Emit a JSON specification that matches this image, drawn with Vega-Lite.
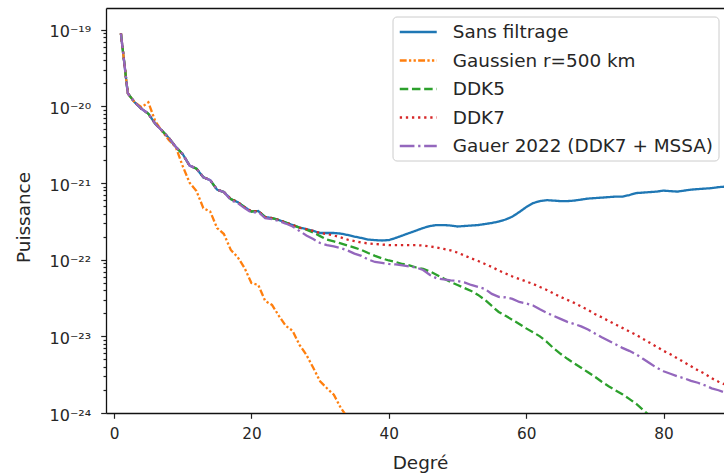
{
  "$schema": "https://vega.github.io/schema/vega-lite/v6.json",
  "width": 618,
  "height": 405,
  "autosize": {"type": "none"},
  "padding": {"left": 106, "top": 8, "right": 0, "bottom": 62},
  "background": "white",
  "config": {
    "view": {"stroke": null},
    "font": "DejaVu Sans",
    "axis": {"grid": false, "domain": true, "domainColor": "#111", "domainWidth": 1.3, "tickColor": "#222", "tickWidth": 1.2, "labelColor": "#262626", "labelFont": "DejaVu Sans", "labelFontSize": 15.3, "titleFont": "DejaVu Sans", "titleFontSize": 18.4, "titleFontWeight": "normal", "titleColor": "#262626", "labelFlush": false, "labelOverlap": false}
  },
  "data": {"values": [
    {"d":1,"s":"Sans filtrage","p":8.95e-20},{"d":2,"s":"Sans filtrage","p":1.48e-20},{"d":3,"s":"Sans filtrage","p":1.13e-20},{"d":4,"s":"Sans filtrage","p":9.31e-21},{"d":5,"s":"Sans filtrage","p":8.02e-21},{"d":6,"s":"Sans filtrage","p":5.93e-21},{"d":7,"s":"Sans filtrage","p":4.81e-21},{"d":8,"s":"Sans filtrage","p":3.85e-21},{"d":9,"s":"Sans filtrage","p":2.95e-21},{"d":10,"s":"Sans filtrage","p":2.38e-21},
    {"d":11,"s":"Sans filtrage","p":1.69e-21},{"d":12,"s":"Sans filtrage","p":1.54e-21},{"d":13,"s":"Sans filtrage","p":1.19e-21},{"d":14,"s":"Sans filtrage","p":1.09e-21},{"d":15,"s":"Sans filtrage","p":8.2e-22},{"d":16,"s":"Sans filtrage","p":7.62e-22},{"d":17,"s":"Sans filtrage","p":6.17e-22},{"d":18,"s":"Sans filtrage","p":5.64e-22},{"d":19,"s":"Sans filtrage","p":4.85e-22},{"d":20,"s":"Sans filtrage","p":4.25e-22},
    {"d":21,"s":"Sans filtrage","p":4.31e-22},{"d":22,"s":"Sans filtrage","p":3.6e-22},{"d":23,"s":"Sans filtrage","p":3.49e-22},{"d":24,"s":"Sans filtrage","p":3.29e-22},{"d":25,"s":"Sans filtrage","p":3.05e-22},{"d":26,"s":"Sans filtrage","p":2.83e-22},{"d":27,"s":"Sans filtrage","p":2.62e-22},{"d":28,"s":"Sans filtrage","p":2.51e-22},{"d":29,"s":"Sans filtrage","p":2.37e-22},{"d":30,"s":"Sans filtrage","p":2.23e-22},
    {"d":31,"s":"Sans filtrage","p":2.23e-22},{"d":32,"s":"Sans filtrage","p":2.23e-22},{"d":33,"s":"Sans filtrage","p":2.19e-22},{"d":34,"s":"Sans filtrage","p":2.1e-22},{"d":35,"s":"Sans filtrage","p":2.0e-22},{"d":36,"s":"Sans filtrage","p":1.92e-22},{"d":37,"s":"Sans filtrage","p":1.83e-22},{"d":38,"s":"Sans filtrage","p":1.8e-22},{"d":39,"s":"Sans filtrage","p":1.78e-22},{"d":40,"s":"Sans filtrage","p":1.8e-22},
    {"d":41,"s":"Sans filtrage","p":1.92e-22},{"d":42,"s":"Sans filtrage","p":2.07e-22},{"d":43,"s":"Sans filtrage","p":2.23e-22},{"d":44,"s":"Sans filtrage","p":2.4e-22},{"d":45,"s":"Sans filtrage","p":2.59e-22},{"d":46,"s":"Sans filtrage","p":2.75e-22},{"d":47,"s":"Sans filtrage","p":2.83e-22},{"d":48,"s":"Sans filtrage","p":2.83e-22},{"d":49,"s":"Sans filtrage","p":2.79e-22},{"d":50,"s":"Sans filtrage","p":2.71e-22},
    {"d":51,"s":"Sans filtrage","p":2.75e-22},{"d":52,"s":"Sans filtrage","p":2.79e-22},{"d":53,"s":"Sans filtrage","p":2.83e-22},{"d":54,"s":"Sans filtrage","p":2.92e-22},{"d":55,"s":"Sans filtrage","p":3.01e-22},{"d":56,"s":"Sans filtrage","p":3.14e-22},{"d":57,"s":"Sans filtrage","p":3.34e-22},{"d":58,"s":"Sans filtrage","p":3.65e-22},{"d":59,"s":"Sans filtrage","p":4.18e-22},{"d":60,"s":"Sans filtrage","p":4.85e-22},
    {"d":61,"s":"Sans filtrage","p":5.47e-22},{"d":62,"s":"Sans filtrage","p":5.81e-22},{"d":63,"s":"Sans filtrage","p":5.98e-22},{"d":64,"s":"Sans filtrage","p":5.9e-22},{"d":65,"s":"Sans filtrage","p":5.81e-22},{"d":66,"s":"Sans filtrage","p":5.81e-22},{"d":67,"s":"Sans filtrage","p":5.9e-22},{"d":68,"s":"Sans filtrage","p":6.08e-22},{"d":69,"s":"Sans filtrage","p":6.27e-22},{"d":70,"s":"Sans filtrage","p":6.36e-22},
    {"d":71,"s":"Sans filtrage","p":6.45e-22},{"d":72,"s":"Sans filtrage","p":6.55e-22},{"d":73,"s":"Sans filtrage","p":6.65e-22},{"d":74,"s":"Sans filtrage","p":6.65e-22},{"d":75,"s":"Sans filtrage","p":6.96e-22},{"d":76,"s":"Sans filtrage","p":7.39e-22},{"d":77,"s":"Sans filtrage","p":7.5e-22},{"d":78,"s":"Sans filtrage","p":7.62e-22},{"d":79,"s":"Sans filtrage","p":7.73e-22},{"d":80,"s":"Sans filtrage","p":7.96e-22},
    {"d":81,"s":"Sans filtrage","p":7.84e-22},{"d":82,"s":"Sans filtrage","p":7.73e-22},{"d":83,"s":"Sans filtrage","p":7.96e-22},{"d":84,"s":"Sans filtrage","p":8.2e-22},{"d":85,"s":"Sans filtrage","p":8.33e-22},{"d":86,"s":"Sans filtrage","p":8.46e-22},{"d":87,"s":"Sans filtrage","p":8.58e-22},{"d":88,"s":"Sans filtrage","p":8.84e-22},{"d":89,"s":"Sans filtrage","p":8.97e-22},

    {"d":1,"s":"Gaussien r=500 km","p":8.95e-20},{"d":2,"s":"Gaussien r=500 km","p":1.48e-20},{"d":3,"s":"Gaussien r=500 km","p":1.13e-20},{"d":4,"s":"Gaussien r=500 km","p":9.73e-21},{"d":5,"s":"Gaussien r=500 km","p":1.13e-20},{"d":6,"s":"Gaussien r=500 km","p":6.4e-21},{"d":7,"s":"Gaussien r=500 km","p":4.74e-21},{"d":8,"s":"Gaussien r=500 km","p":3.62e-21},{"d":9,"s":"Gaussien r=500 km","p":2.93e-21},{"d":10,"s":"Gaussien r=500 km","p":1.66e-21},
    {"d":11,"s":"Gaussien r=500 km","p":1.01e-21},{"d":12,"s":"Gaussien r=500 km","p":7.84e-22},{"d":13,"s":"Gaussien r=500 km","p":4.71e-22},{"d":14,"s":"Gaussien r=500 km","p":4.25e-22},{"d":15,"s":"Gaussien r=500 km","p":2.59e-22},{"d":16,"s":"Gaussien r=500 km","p":2.16e-22},{"d":17,"s":"Gaussien r=500 km","p":1.34e-22},{"d":18,"s":"Gaussien r=500 km","p":1.08e-22},{"d":19,"s":"Gaussien r=500 km","p":7.8e-23},{"d":20,"s":"Gaussien r=500 km","p":4.97e-23},
    {"d":21,"s":"Gaussien r=500 km","p":4.68e-23},{"d":22,"s":"Gaussien r=500 km","p":2.9e-23},{"d":23,"s":"Gaussien r=500 km","p":2.57e-23},{"d":24,"s":"Gaussien r=500 km","p":1.85e-23},{"d":25,"s":"Gaussien r=500 km","p":1.37e-23},{"d":26,"s":"Gaussien r=500 km","p":1.18e-23},{"d":27,"s":"Gaussien r=500 km","p":7.75e-24},{"d":28,"s":"Gaussien r=500 km","p":5.74e-24},{"d":29,"s":"Gaussien r=500 km","p":3.89e-24},{"d":30,"s":"Gaussien r=500 km","p":2.59e-24},
    {"d":31,"s":"Gaussien r=500 km","p":2.1e-24},{"d":32,"s":"Gaussien r=500 km","p":1.73e-24},{"d":33,"s":"Gaussien r=500 km","p":1.17e-24},{"d":34,"s":"Gaussien r=500 km","p":8.7e-25},

    {"d":1,"s":"DDK5","p":8.95e-20},{"d":2,"s":"DDK5","p":1.48e-20},{"d":3,"s":"DDK5","p":1.13e-20},{"d":4,"s":"DDK5","p":9.31e-21},{"d":5,"s":"DDK5","p":8.02e-21},{"d":6,"s":"DDK5","p":5.93e-21},{"d":7,"s":"DDK5","p":4.81e-21},{"d":8,"s":"DDK5","p":3.85e-21},{"d":9,"s":"DDK5","p":2.95e-21},{"d":10,"s":"DDK5","p":2.38e-21},
    {"d":11,"s":"DDK5","p":1.69e-21},{"d":12,"s":"DDK5","p":1.54e-21},{"d":13,"s":"DDK5","p":1.19e-21},{"d":14,"s":"DDK5","p":1.09e-21},{"d":15,"s":"DDK5","p":8.2e-22},{"d":16,"s":"DDK5","p":7.62e-22},{"d":17,"s":"DDK5","p":6.17e-22},{"d":18,"s":"DDK5","p":5.64e-22},{"d":19,"s":"DDK5","p":4.85e-22},{"d":20,"s":"DDK5","p":4.25e-22},
    {"d":21,"s":"DDK5","p":4.31e-22},{"d":22,"s":"DDK5","p":3.6e-22},{"d":23,"s":"DDK5","p":3.49e-22},{"d":24,"s":"DDK5","p":3.29e-22},{"d":25,"s":"DDK5","p":3.05e-22},{"d":26,"s":"DDK5","p":2.83e-22},{"d":27,"s":"DDK5","p":2.62e-22},{"d":28,"s":"DDK5","p":2.47e-22},{"d":29,"s":"DDK5","p":2.26e-22},{"d":30,"s":"DDK5","p":2.03e-22},
    {"d":31,"s":"DDK5","p":1.83e-22},{"d":32,"s":"DDK5","p":1.73e-22},{"d":33,"s":"DDK5","p":1.63e-22},{"d":34,"s":"DDK5","p":1.53e-22},{"d":35,"s":"DDK5","p":1.44e-22},{"d":36,"s":"DDK5","p":1.34e-22},{"d":37,"s":"DDK5","p":1.22e-22},{"d":38,"s":"DDK5","p":1.12e-22},{"d":39,"s":"DDK5","p":1.04e-22},{"d":40,"s":"DDK5","p":9.76e-23},
    {"d":41,"s":"DDK5","p":9.33e-23},{"d":42,"s":"DDK5","p":8.79e-23},{"d":43,"s":"DDK5","p":8.41e-23},{"d":44,"s":"DDK5","p":7.91e-23},{"d":45,"s":"DDK5","p":7.57e-23},{"d":46,"s":"DDK5","p":7.02e-23},{"d":47,"s":"DDK5","p":6.32e-23},{"d":48,"s":"DDK5","p":5.69e-23},{"d":49,"s":"DDK5","p":5.12e-23},{"d":50,"s":"DDK5","p":4.68e-23},
    {"d":51,"s":"DDK5","p":4.28e-23},{"d":52,"s":"DDK5","p":3.91e-23},{"d":53,"s":"DDK5","p":3.47e-23},{"d":54,"s":"DDK5","p":2.99e-23},{"d":55,"s":"DDK5","p":2.49e-23},{"d":56,"s":"DDK5","p":2.08e-23},{"d":57,"s":"DDK5","p":1.85e-23},{"d":58,"s":"DDK5","p":1.64e-23},{"d":59,"s":"DDK5","p":1.45e-23},{"d":60,"s":"DDK5","p":1.27e-23},
    {"d":61,"s":"DDK5","p":1.13e-23},{"d":62,"s":"DDK5","p":1.0e-23},{"d":63,"s":"DDK5","p":8.48e-24},{"d":64,"s":"DDK5","p":6.98e-24},{"d":65,"s":"DDK5","p":5.92e-24},{"d":66,"s":"DDK5","p":5.09e-24},{"d":67,"s":"DDK5","p":4.45e-24},{"d":68,"s":"DDK5","p":3.89e-24},{"d":69,"s":"DDK5","p":3.4e-24},{"d":70,"s":"DDK5","p":2.97e-24},
    {"d":71,"s":"DDK5","p":2.56e-24},{"d":72,"s":"DDK5","p":2.23e-24},{"d":73,"s":"DDK5","p":1.98e-24},{"d":74,"s":"DDK5","p":1.76e-24},{"d":75,"s":"DDK5","p":1.53e-24},{"d":76,"s":"DDK5","p":1.32e-24},{"d":77,"s":"DDK5","p":1.1e-24},{"d":78,"s":"DDK5","p":9.2e-25},

    {"d":1,"s":"DDK7","p":8.95e-20},{"d":2,"s":"DDK7","p":1.48e-20},{"d":3,"s":"DDK7","p":1.13e-20},{"d":4,"s":"DDK7","p":9.31e-21},{"d":5,"s":"DDK7","p":8.02e-21},{"d":6,"s":"DDK7","p":5.93e-21},{"d":7,"s":"DDK7","p":4.81e-21},{"d":8,"s":"DDK7","p":3.85e-21},{"d":9,"s":"DDK7","p":2.95e-21},{"d":10,"s":"DDK7","p":2.38e-21},
    {"d":11,"s":"DDK7","p":1.69e-21},{"d":12,"s":"DDK7","p":1.54e-21},{"d":13,"s":"DDK7","p":1.19e-21},{"d":14,"s":"DDK7","p":1.09e-21},{"d":15,"s":"DDK7","p":8.2e-22},{"d":16,"s":"DDK7","p":7.62e-22},{"d":17,"s":"DDK7","p":6.17e-22},{"d":18,"s":"DDK7","p":5.64e-22},{"d":19,"s":"DDK7","p":4.85e-22},{"d":20,"s":"DDK7","p":4.25e-22},
    {"d":21,"s":"DDK7","p":4.31e-22},{"d":22,"s":"DDK7","p":3.6e-22},{"d":23,"s":"DDK7","p":3.49e-22},{"d":24,"s":"DDK7","p":3.29e-22},{"d":25,"s":"DDK7","p":3.05e-22},{"d":26,"s":"DDK7","p":2.83e-22},{"d":27,"s":"DDK7","p":2.62e-22},{"d":28,"s":"DDK7","p":2.51e-22},{"d":29,"s":"DDK7","p":2.37e-22},{"d":30,"s":"DDK7","p":2.23e-22},
    {"d":31,"s":"DDK7","p":2.16e-22},{"d":32,"s":"DDK7","p":2.07e-22},{"d":33,"s":"DDK7","p":1.95e-22},{"d":34,"s":"DDK7","p":1.83e-22},{"d":35,"s":"DDK7","p":1.75e-22},{"d":36,"s":"DDK7","p":1.67e-22},{"d":37,"s":"DDK7","p":1.63e-22},{"d":38,"s":"DDK7","p":1.6e-22},{"d":39,"s":"DDK7","p":1.58e-22},{"d":40,"s":"DDK7","p":1.55e-22},
    {"d":41,"s":"DDK7","p":1.55e-22},{"d":42,"s":"DDK7","p":1.55e-22},{"d":43,"s":"DDK7","p":1.55e-22},{"d":44,"s":"DDK7","p":1.55e-22},{"d":45,"s":"DDK7","p":1.53e-22},{"d":46,"s":"DDK7","p":1.49e-22},{"d":47,"s":"DDK7","p":1.44e-22},{"d":48,"s":"DDK7","p":1.38e-22},{"d":49,"s":"DDK7","p":1.32e-22},{"d":50,"s":"DDK7","p":1.24e-22},
    {"d":51,"s":"DDK7","p":1.135e-22},{"d":52,"s":"DDK7","p":1.04e-22},{"d":53,"s":"DDK7","p":9.62e-23},{"d":54,"s":"DDK7","p":8.79e-23},{"d":55,"s":"DDK7","p":8.04e-23},{"d":56,"s":"DDK7","p":7.23e-23},{"d":57,"s":"DDK7","p":6.61e-23},{"d":58,"s":"DDK7","p":6.04e-23},{"d":59,"s":"DDK7","p":5.61e-23},{"d":60,"s":"DDK7","p":5.2e-23},
    {"d":61,"s":"DDK7","p":4.83e-23},{"d":62,"s":"DDK7","p":4.41e-23},{"d":63,"s":"DDK7","p":4.03e-23},{"d":64,"s":"DDK7","p":3.63e-23},{"d":65,"s":"DDK7","p":3.27e-23},{"d":66,"s":"DDK7","p":2.99e-23},{"d":67,"s":"DDK7","p":2.73e-23},{"d":68,"s":"DDK7","p":2.46e-23},{"d":69,"s":"DDK7","p":2.21e-23},{"d":70,"s":"DDK7","p":1.96e-23},
    {"d":71,"s":"DDK7","p":1.77e-23},{"d":72,"s":"DDK7","p":1.59e-23},{"d":73,"s":"DDK7","p":1.43e-23},{"d":74,"s":"DDK7","p":1.29e-23},{"d":75,"s":"DDK7","p":1.16e-23},{"d":76,"s":"DDK7","p":1.046e-23},{"d":77,"s":"DDK7","p":9.28e-24},{"d":78,"s":"DDK7","p":8.23e-24},{"d":79,"s":"DDK7","p":7.3e-24},{"d":80,"s":"DDK7","p":6.47e-24},
    {"d":81,"s":"DDK7","p":5.83e-24},{"d":82,"s":"DDK7","p":5.17e-24},{"d":83,"s":"DDK7","p":4.59e-24},{"d":84,"s":"DDK7","p":4.07e-24},{"d":85,"s":"DDK7","p":3.61e-24},{"d":86,"s":"DDK7","p":3.25e-24},{"d":87,"s":"DDK7","p":2.84e-24},{"d":88,"s":"DDK7","p":2.56e-24},{"d":89,"s":"DDK7","p":2.34e-24},

    {"d":1,"s":"Gauer 2022 (DDK7 + MSSA)","p":8.95e-20},{"d":2,"s":"Gauer 2022 (DDK7 + MSSA)","p":1.48e-20},{"d":3,"s":"Gauer 2022 (DDK7 + MSSA)","p":1.13e-20},{"d":4,"s":"Gauer 2022 (DDK7 + MSSA)","p":9.31e-21},{"d":5,"s":"Gauer 2022 (DDK7 + MSSA)","p":8.02e-21},{"d":6,"s":"Gauer 2022 (DDK7 + MSSA)","p":5.93e-21},{"d":7,"s":"Gauer 2022 (DDK7 + MSSA)","p":4.81e-21},{"d":8,"s":"Gauer 2022 (DDK7 + MSSA)","p":3.85e-21},{"d":9,"s":"Gauer 2022 (DDK7 + MSSA)","p":2.95e-21},{"d":10,"s":"Gauer 2022 (DDK7 + MSSA)","p":2.38e-21},
    {"d":11,"s":"Gauer 2022 (DDK7 + MSSA)","p":1.69e-21},{"d":12,"s":"Gauer 2022 (DDK7 + MSSA)","p":1.54e-21},{"d":13,"s":"Gauer 2022 (DDK7 + MSSA)","p":1.19e-21},{"d":14,"s":"Gauer 2022 (DDK7 + MSSA)","p":1.09e-21},{"d":15,"s":"Gauer 2022 (DDK7 + MSSA)","p":8.2e-22},{"d":16,"s":"Gauer 2022 (DDK7 + MSSA)","p":7.62e-22},{"d":17,"s":"Gauer 2022 (DDK7 + MSSA)","p":5.98e-22},{"d":18,"s":"Gauer 2022 (DDK7 + MSSA)","p":5.47e-22},{"d":19,"s":"Gauer 2022 (DDK7 + MSSA)","p":4.71e-22},{"d":20,"s":"Gauer 2022 (DDK7 + MSSA)","p":4.12e-22},
    {"d":21,"s":"Gauer 2022 (DDK7 + MSSA)","p":4.18e-22},{"d":22,"s":"Gauer 2022 (DDK7 + MSSA)","p":3.49e-22},{"d":23,"s":"Gauer 2022 (DDK7 + MSSA)","p":3.39e-22},{"d":24,"s":"Gauer 2022 (DDK7 + MSSA)","p":3.19e-22},{"d":25,"s":"Gauer 2022 (DDK7 + MSSA)","p":2.96e-22},{"d":26,"s":"Gauer 2022 (DDK7 + MSSA)","p":2.71e-22},{"d":27,"s":"Gauer 2022 (DDK7 + MSSA)","p":2.37e-22},{"d":28,"s":"Gauer 2022 (DDK7 + MSSA)","p":2.07e-22},{"d":29,"s":"Gauer 2022 (DDK7 + MSSA)","p":1.86e-22},{"d":30,"s":"Gauer 2022 (DDK7 + MSSA)","p":1.65e-22},
    {"d":31,"s":"Gauer 2022 (DDK7 + MSSA)","p":1.55e-22},{"d":32,"s":"Gauer 2022 (DDK7 + MSSA)","p":1.49e-22},{"d":33,"s":"Gauer 2022 (DDK7 + MSSA)","p":1.42e-22},{"d":34,"s":"Gauer 2022 (DDK7 + MSSA)","p":1.32e-22},{"d":35,"s":"Gauer 2022 (DDK7 + MSSA)","p":1.2e-22},{"d":36,"s":"Gauer 2022 (DDK7 + MSSA)","p":1.12e-22},{"d":37,"s":"Gauer 2022 (DDK7 + MSSA)","p":1.006e-22},{"d":38,"s":"Gauer 2022 (DDK7 + MSSA)","p":9.33e-23},{"d":39,"s":"Gauer 2022 (DDK7 + MSSA)","p":9.06e-23},{"d":40,"s":"Gauer 2022 (DDK7 + MSSA)","p":8.79e-23},
    {"d":41,"s":"Gauer 2022 (DDK7 + MSSA)","p":8.66e-23},{"d":42,"s":"Gauer 2022 (DDK7 + MSSA)","p":8.41e-23},{"d":43,"s":"Gauer 2022 (DDK7 + MSSA)","p":8.15e-23},{"d":44,"s":"Gauer 2022 (DDK7 + MSSA)","p":7.91e-23},{"d":45,"s":"Gauer 2022 (DDK7 + MSSA)","p":7.34e-23},{"d":46,"s":"Gauer 2022 (DDK7 + MSSA)","p":6.32e-23},{"d":47,"s":"Gauer 2022 (DDK7 + MSSA)","p":5.69e-23},{"d":48,"s":"Gauer 2022 (DDK7 + MSSA)","p":5.52e-23},{"d":49,"s":"Gauer 2022 (DDK7 + MSSA)","p":5.36e-23},{"d":50,"s":"Gauer 2022 (DDK7 + MSSA)","p":5.28e-23},
    {"d":51,"s":"Gauer 2022 (DDK7 + MSSA)","p":5.05e-23},{"d":52,"s":"Gauer 2022 (DDK7 + MSSA)","p":4.68e-23},{"d":53,"s":"Gauer 2022 (DDK7 + MSSA)","p":4.41e-23},{"d":54,"s":"Gauer 2022 (DDK7 + MSSA)","p":4.15e-23},{"d":55,"s":"Gauer 2022 (DDK7 + MSSA)","p":3.58e-23},{"d":56,"s":"Gauer 2022 (DDK7 + MSSA)","p":3.27e-23},{"d":57,"s":"Gauer 2022 (DDK7 + MSSA)","p":3.22e-23},{"d":58,"s":"Gauer 2022 (DDK7 + MSSA)","p":3.08e-23},{"d":59,"s":"Gauer 2022 (DDK7 + MSSA)","p":2.81e-23},{"d":60,"s":"Gauer 2022 (DDK7 + MSSA)","p":2.69e-23},
    {"d":61,"s":"Gauer 2022 (DDK7 + MSSA)","p":2.53e-23},{"d":62,"s":"Gauer 2022 (DDK7 + MSSA)","p":2.25e-23},{"d":63,"s":"Gauer 2022 (DDK7 + MSSA)","p":2.02e-23},{"d":64,"s":"Gauer 2022 (DDK7 + MSSA)","p":1.85e-23},{"d":65,"s":"Gauer 2022 (DDK7 + MSSA)","p":1.69e-23},{"d":66,"s":"Gauer 2022 (DDK7 + MSSA)","p":1.545e-23},{"d":67,"s":"Gauer 2022 (DDK7 + MSSA)","p":1.45e-23},{"d":68,"s":"Gauer 2022 (DDK7 + MSSA)","p":1.35e-23},{"d":69,"s":"Gauer 2022 (DDK7 + MSSA)","p":1.23e-23},{"d":70,"s":"Gauer 2022 (DDK7 + MSSA)","p":1.09e-23},
    {"d":71,"s":"Gauer 2022 (DDK7 + MSSA)","p":9.7e-24},{"d":72,"s":"Gauer 2022 (DDK7 + MSSA)","p":8.74e-24},{"d":73,"s":"Gauer 2022 (DDK7 + MSSA)","p":7.87e-24},{"d":74,"s":"Gauer 2022 (DDK7 + MSSA)","p":7.08e-24},{"d":75,"s":"Gauer 2022 (DDK7 + MSSA)","p":6.47e-24},{"d":76,"s":"Gauer 2022 (DDK7 + MSSA)","p":5.83e-24},{"d":77,"s":"Gauer 2022 (DDK7 + MSSA)","p":5.09e-24},{"d":78,"s":"Gauer 2022 (DDK7 + MSSA)","p":4.45e-24},{"d":79,"s":"Gauer 2022 (DDK7 + MSSA)","p":3.89e-24},{"d":80,"s":"Gauer 2022 (DDK7 + MSSA)","p":3.5e-24},
    {"d":81,"s":"Gauer 2022 (DDK7 + MSSA)","p":3.25e-24},{"d":82,"s":"Gauer 2022 (DDK7 + MSSA)","p":3.01e-24},{"d":83,"s":"Gauer 2022 (DDK7 + MSSA)","p":2.84e-24},{"d":84,"s":"Gauer 2022 (DDK7 + MSSA)","p":2.63e-24},{"d":85,"s":"Gauer 2022 (DDK7 + MSSA)","p":2.48e-24},{"d":86,"s":"Gauer 2022 (DDK7 + MSSA)","p":2.3e-24},{"d":87,"s":"Gauer 2022 (DDK7 + MSSA)","p":2.1e-24},{"d":88,"s":"Gauer 2022 (DDK7 + MSSA)","p":1.98e-24},{"d":89,"s":"Gauer 2022 (DDK7 + MSSA)","p":1.84e-24}
  ]},
  "layer": [
    {
      "mark": {"type": "line", "strokeWidth": 2.3, "clip": true},
      "encoding": {
        "x": {"field": "d", "type": "quantitative", "scale": {"domain": [-1.17, 88.8], "nice": false, "zero": false},
          "axis": {"values": [0, 20, 40, 60, 80], "format": "d", "tickSize": 5.3, "labelPadding": 8, "domain": true, "title": "Degré", "titleX": 314, "titleY": 55, "titleBaseline": "alphabetic", "titleAlign": "center"}},
        "y": {"field": "p", "type": "quantitative", "title": "Puissance", "scale": {"type": "log", "domain": [1e-24, 1.92e-19], "nice": false},
          "axis": {
            "domain": true,
            "values": [1e-24,2e-24,3e-24,4e-24,5e-24,6e-24,7e-24,8e-24,9e-24,1e-23,2e-23,3e-23,4e-23,5e-23,6e-23,7e-23,8e-23,9e-23,1e-22,2e-22,3e-22,4e-22,5e-22,6e-22,7e-22,8e-22,9e-22,1e-21,2e-21,3e-21,4e-21,5e-21,6e-21,7e-21,8e-21,9e-21,1e-20,2e-20,3e-20,4e-20,5e-20,6e-20,7e-20,8e-20,9e-20,1e-19],
            "labelExpr": "abs(log(datum.value)/LN10 - round(log(datum.value)/LN10)) < 0.01 ? '10' + ['⁻²⁴','⁻²³','⁻²²','⁻²¹','⁻²⁰','⁻¹⁹'][round(log(datum.value)/LN10) + 24] : ''",
            "tickSize": {"condition": {"test": "abs(log(datum.value)/LN10 - round(log(datum.value)/LN10)) < 0.01", "value": 5.3}, "value": 3},
            "labelFontSize": 16,
            "labelPadding": 10, "labelOffset": 2,
            "titleX": -77, "titleY": 209, "titleBaseline": "alphabetic", "titleAlign": "center", "titleAngle": -90}},
        "color": {"field": "s", "type": "nominal",
          "scale": {"domain": ["Sans filtrage", "Gaussien r=500 km", "DDK5", "DDK7", "Gauer 2022 (DDK7 + MSSA)"], "range": ["#1f77b4", "#ff7f0e", "#2ca02c", "#d62728", "#9467bd"]},
          "legend": {"title": null, "orient": "none", "legendX": 286.5, "legendY": 8.5, "labelFont": "DejaVu Sans", "labelFontSize": 18.4, "labelColor": "#262626", "labelLimit": 0, "symbolType": "M-2,0H2", "symbolSize": 342, "symbolOffset": 10.25, "symbolStrokeWidth": 2.3, "labelOffset": 24, "padding": 5, "rowPadding": 8.5, "fillColor": "rgba(255,255,255,0.8)", "strokeColor": "#cccccc", "cornerRadius": 4}},
        "strokeDash": {"field": "s", "type": "nominal",
          "scale": {"domain": ["Sans filtrage", "Gaussien r=500 km", "DDK5", "DDK7", "Gauer 2022 (DDK7 + MSSA)"], "range": [[1, 0], [6.9, 2.3, 2.3, 2.3, 2.3, 2.3], [8.5, 3.7], [2.3, 3.8], [14.7, 3.7, 2.3, 3.7]]},
          "legend": {"title": null, "orient": "none", "legendX": 286.5, "legendY": 8.5, "labelFont": "DejaVu Sans", "labelFontSize": 18.4, "labelColor": "#262626", "labelLimit": 0, "symbolType": "M-2,0H2", "symbolSize": 342, "symbolOffset": 10.25, "symbolStrokeWidth": 2.3, "labelOffset": 24, "padding": 5, "rowPadding": 8.5, "fillColor": "rgba(255,255,255,0.8)", "strokeColor": "#cccccc", "cornerRadius": 4}}
      }
    },
    {
      "mark": {"type": "line", "opacity": 0},
      "encoding": {
        "x": {"field": "d", "type": "quantitative", "axis": {"orient": "top", "labels": false, "ticks": false, "title": null, "domain": true}},
        "y": {"field": "p", "type": "quantitative", "title": "Puissance"}
      }
    }
  ],
  "resolve": {"axis": {"x": "independent"}}
}
